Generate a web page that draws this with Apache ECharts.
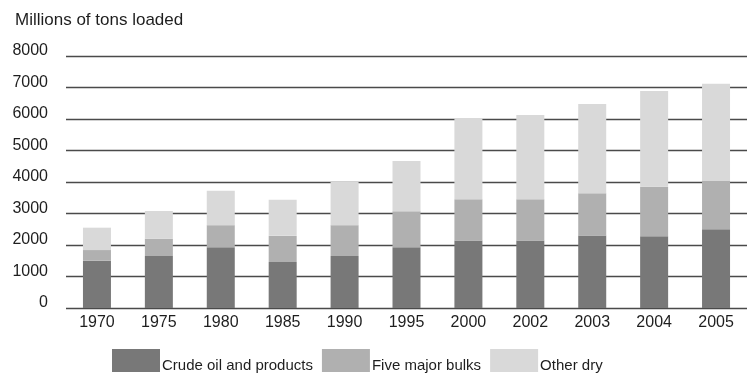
<!DOCTYPE html>
<html>
<head>
<meta charset="utf-8">
<script src="https://cdn.jsdelivr.net/npm/echarts@6/dist/echarts.min.js"></script>
<style>
  html, body { margin: 0; padding: 0; background: #fff; }
  #chart { width: 747px; height: 380px; }
</style>
</head>
<body>
<div id="chart"></div>
<script>
// Seaborne trade, millions of tons loaded, by cargo group
const years = ['1970', '1975', '1980', '1985', '1990', '1995', '2000', '2002', '2003', '2004', '2005'];
const crudeOil = [1500, 1650, 1930, 1460, 1650, 1930, 2140, 2140, 2300, 2280, 2500];
const majorBulks = [340, 550, 700, 830, 980, 1140, 1310, 1310, 1340, 1570, 1530];
const otherDry = [710, 880, 1090, 1150, 1370, 1600, 2580, 2680, 2840, 3040, 3090];
const seriesNames = ['Crude oil and products', 'Five major bulks', 'Other dry'];
const seriesColors = ['#787878', '#b0b0b0', '#d9d9d9'];

const font = "'Liberation Sans', Arial, Helvetica, sans-serif";
const chart = echarts.init(document.getElementById('chart'), null, { renderer: 'canvas' });

const makeSeries = (name, data, color) => ({
  name: name,
  type: 'bar',
  stack: 'total',
  data: data,
  barWidth: 28,
  itemStyle: { color: color },
  emphasis: { disabled: true },
  animation: false
});

chart.setOption({
  animation: false,
  backgroundColor: '#ffffff',
  title: {
    text: 'Millions of tons loaded',
    left: 10,
    top: 7,
    textStyle: { fontFamily: font, fontSize: 17, fontWeight: 'normal', color: '#1e1e1e' }
  },
  grid: { left: 66, right: -9, top: 56, bottom: 72, containLabel: false },
  legend: {
    left: 112,
    top: 348,
    padding: 0,
    itemWidth: 48,
    itemHeight: 23,
    itemGap: 9,
    icon: 'rect',
    data: seriesNames,
    formatter: (name) => '{t|' + name + '}',
    textStyle: {
      fontFamily: font, fontSize: 15, color: '#1e1e1e',
      rich: {
        t: { fontFamily: font, fontSize: 15, color: '#1e1e1e', lineHeight: 15, padding: [10, 0, 0, -3] }
      }
    }
  },
  xAxis: {
    type: 'category',
    data: years,
    boundaryGap: true,
    axisLine: { show: false },
    axisTick: { show: false },
    axisLabel: { fontFamily: font, fontSize: 16, color: '#1e1e1e', margin: 7 }
  },
  yAxis: {
    type: 'value',
    min: 0,
    max: 8000,
    interval: 1000,
    axisLine: { show: false },
    axisTick: { show: false },
    splitLine: { lineStyle: { color: '#4a4a4a', width: 1.3 } },
    axisLabel: {
      fontFamily: font, fontSize: 16, color: '#1e1e1e', margin: 18,
      verticalAlign: 'bottom', lineHeight: 10,
      formatter: (v) => String(v)
    }
  },
  series: [
    makeSeries(seriesNames[0], crudeOil, seriesColors[0]),
    makeSeries(seriesNames[1], majorBulks, seriesColors[1]),
    makeSeries(seriesNames[2], otherDry, seriesColors[2])
  ]
});
</script>
</body>
</html>
